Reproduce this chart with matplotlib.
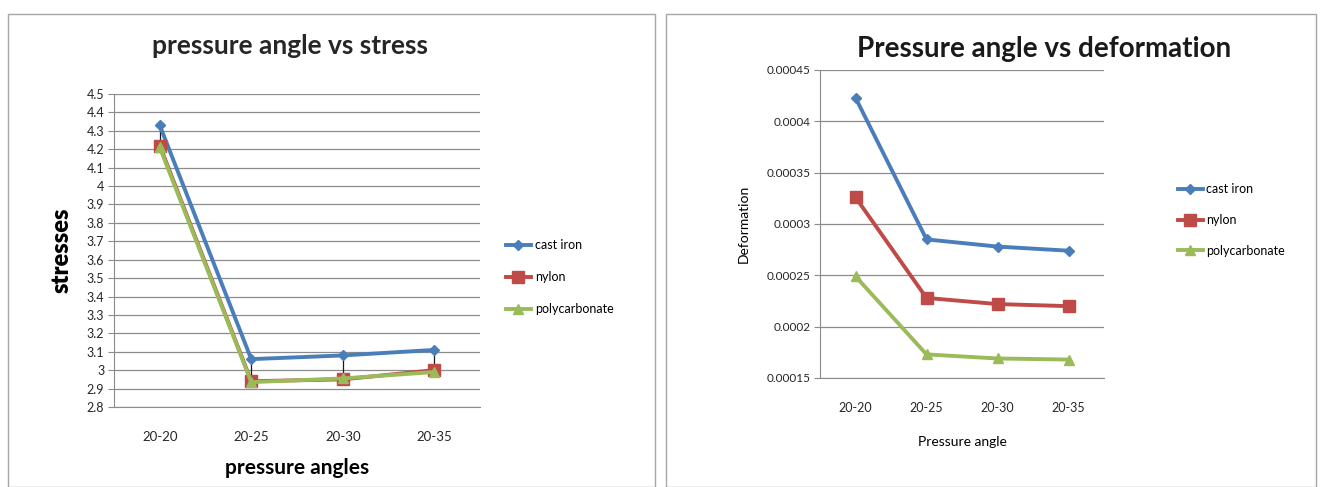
import matplotlib.pyplot as plt
from matplotlib.patches import Rectangle
from matplotlib.ticker import FixedLocator, FuncFormatter

# pressure angle combinations on the x axis
angles = ["20-20", "20-25", "20-30", "20-35"]
materials = ["cast iron", "nylon", "polycarbonate"]

# stress values per material
stress_cast_iron = [4.33, 3.06, 3.08, 3.11]
stress_nylon = [4.22, 2.94, 2.95, 3.00]
stress_polycarbonate = [4.21, 2.935, 2.955, 2.99]

# deformation values per material
defo_cast_iron = [0.000423, 0.000285, 0.000278, 0.000274]
defo_nylon = [0.000326, 0.000228, 0.000222, 0.000220]
defo_polycarbonate = [0.000249, 0.000173, 0.000169, 0.000168]

stress_ticks = [2.8, 2.9, 3.0, 3.1, 3.2, 3.3, 3.4, 3.5, 3.6, 3.7, 3.8, 3.9,
                4.0, 4.1, 4.2, 4.3, 4.4, 4.5]
defo_ticks = [0.00015, 0.0002, 0.00025, 0.0003, 0.00035, 0.0004, 0.00045]

farben = {"cast iron": "#4A7EBB", "nylon": "#BE4B48", "polycarbonate": "#9BBB59"}
marker = {"cast iron": "D", "nylon": "s", "polycarbonate": "^"}
msize = {"cast iron": 5, "nylon": 8, "polycarbonate": 7}

plt.rcParams["font.family"] = ["Lato", "DejaVu Sans"]

W, H = 1328, 487
fig = plt.figure(figsize=(W / 100, H / 100), dpi=100)


def px_axes(x0, y0, x1, y1):
    # Achsen in Pixelkoordinaten (oben links = 0,0)
    return fig.add_axes([x0 / W, 1 - y1 / H, (x1 - x0) / W, (y1 - y0) / H])


# Rahmen der beiden Diagrammflaechen
for x0, x1 in [(8, 655), (666, 1316)]:
    fig.patches.append(Rectangle((x0 / W, 0), (x1 - x0) / W, 1 - 14 / H,
                                 transform=fig.transFigure, fill=False,
                                 edgecolor="#a6a6a6", linewidth=1.0))


def style_axes(ax, ticks, fmt, labelsize):
    ax.set_xlim(-0.5, len(angles) - 0.5)
    ax.set_ylim(ticks[0], ticks[-1])
    ax.yaxis.set_major_locator(FixedLocator(ticks))
    ax.yaxis.set_major_formatter(FuncFormatter(fmt))
    ax.set_xticks(range(len(angles)))
    ax.set_xticklabels(angles)
    ax.grid(axis="y", color="#8c8c8c", linewidth=0.9)
    ax.set_axisbelow(True)
    for s in ["top", "right"]:
        ax.spines[s].set_visible(False)
    ax.spines["left"].set_color("#8c8c8c")
    ax.spines["bottom"].set_color("#8c8c8c")
    ax.tick_params(axis="y", length=4, color="#8c8c8c", labelsize=labelsize,
                   labelcolor="#262626", pad=3)
    ax.tick_params(axis="x", length=0, labelsize=labelsize + 0.5,
                   labelcolor="#262626", pad=17)


# --- linkes Diagramm: Spannung ---
ax1 = px_axes(114, 94, 480, 407)
stress = [stress_cast_iron, stress_nylon, stress_polycarbonate]
# Hoch-Tief-Linien zwischen den Reihen
for i in range(len(angles)):
    werte = [s[i] for s in stress]
    ax1.vlines(i, min(werte), max(werte), color="#1a1a1a", linewidth=0.9, zorder=2)
for name, werte in zip(materials, stress):
    ax1.plot(range(len(angles)), werte, color=farben[name], linewidth=2.8,
             marker=marker[name], markersize=msize[name], label=name, zorder=3)
style_axes(ax1, stress_ticks, lambda v, p: f"{v:g}", 9)
ax1.set_title("pressure angle vs stress", fontsize=19, fontweight="bold",
              color="#262626", pad=29, x=0.48)
ax1.set_ylabel("stresses", fontsize=17, fontweight="heavy", labelpad=10)
ax1.set_xlabel("pressure angles", fontsize=15, fontweight="bold", labelpad=11)
ax1.legend(loc="center left", bbox_to_anchor=(1.04, 0.415), frameon=False,
           fontsize=9, handlelength=2.0, handletextpad=0.3, labelspacing=1.6)

# --- rechtes Diagramm: Verformung ---
ax2 = px_axes(820, 70, 1104, 378)
defo = [defo_cast_iron, defo_nylon, defo_polycarbonate]
for name, werte in zip(materials, defo):
    ax2.plot(range(len(angles)), werte, color=farben[name], linewidth=2.8,
             marker=marker[name], markersize=msize[name], label=name, zorder=3)
style_axes(ax2, defo_ticks, lambda v, p: f"{v:.5f}".rstrip("0"), 8.5)
ax2.set_title("Pressure angle vs deformation", fontsize=20, fontweight="bold",
              color="#1a1a1a", pad=9, x=0.79)
ax2.set_ylabel("Deformation", fontsize=10, labelpad=12)
ax2.set_xlabel("Pressure angle", fontsize=10, labelpad=16)
ax2.legend(loc="center left", bbox_to_anchor=(1.22, 0.513), frameon=False,
           fontsize=9, handlelength=2.0, handletextpad=0.3, labelspacing=1.5)

fig.savefig("out.png", dpi=100)
